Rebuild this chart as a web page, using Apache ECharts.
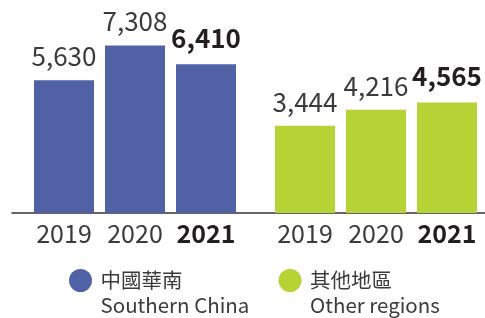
<!DOCTYPE html>
<html>
<head>
<meta charset="utf-8">
<script src="https://cdn.jsdelivr.net/npm/echarts@6/dist/echarts.min.js"></script>
<style>
  html, body { margin: 0; padding: 0; background: #fff; }
  #chart { width: 485px; height: 318px; }
</style>
</head>
<body>
<div id="chart"></div>
<script>
// data
const years = ['2019', '2020', '2021'];
const southernChina = [5630, 7308, 6410];
const otherRegions = [3444, 4216, 4565];
const seriesNames = ['中國華南\nSouthern China', '其他地區\nOther regions'];

const colors = ['#5161a5', '#b5d334'];
const FONT = '"Noto Sans CJK TC", "Noto Sans", sans-serif';

const chart = echarts.init(document.getElementById('chart'));

// bars are drawn from the bottom of the grid (axis is not zero based)
function renderBar(params, api) {
  const cs = params.coordSys;
  const pt = api.coord([api.value(0), api.value(1)]);
  const band = api.size([1, 0])[0];
  const w = band * 0.845;
  const bottom = cs.y + cs.height;
  const last = params.dataIndex === years.length - 1;
  return {
    type: 'group',
    children: [
      {
        type: 'rect',
        shape: { x: pt[0] - w / 2, y: pt[1], width: w, height: bottom - pt[1] },
        style: { fill: api.visual('color') }
      },
      {
        type: 'text',
        x: pt[0],
        y: pt[1] - (last ? 13 : 11),
        style: {
          text: echarts.format.addCommas(api.value(1)),
          fill: last ? '#231f20' : '#3b3b3b',
          font: (last ? 'bold ' : '') + '26px ' + FONT,
          align: 'center',
          verticalAlign: 'bottom'
        }
      }
    ]
  };
}

function xAxisFor(gridIndex) {
  return {
    type: 'category',
    gridIndex: gridIndex,
    data: years,
    axisLine: { show: false },
    axisTick: { show: false },
    axisLabel: {
      interval: 0,
      hideOverlap: false,
      margin: 8,
      fontFamily: FONT,
      fontSize: 25,
      color: '#3b3b3b',
      formatter: function (v, i) {
        return i === years.length - 1 ? '{b|' + v + '}' : v;
      },
      rich: {
        b: { fontFamily: FONT, fontSize: 25, fontWeight: 'bold', color: '#231f20' }
      }
    }
  };
}

function yAxisFor(gridIndex) {
  return {
    type: 'value',
    gridIndex: gridIndex,
    min: -760,
    max: 9500,
    show: false
  };
}

function legendFor(i, left) {
  return {
    data: [seriesNames[i]],
    left: left,
    top: 243,
    padding: 0,
    icon: 'circle',
    itemWidth: 30,
    itemHeight: 23,
    selectedMode: false,
    // blank first line keeps the dot level with the first text line
    formatter: function (name) {
      return ' \n' + name;
    },
    textStyle: {
      fontFamily: FONT,
      fontSize: 20.5,
      lineHeight: 25,
      color: '#3b3b3b'
    }
  };
}

const option = {
  animation: false,
  legend: [legendFor(0, 69), legendFor(1, 278.5)],
  grid: [
    { left: 28.5, top: 0, width: 213, height: 213 },
    { left: 269.5, top: 0, width: 213, height: 213 },
    { left: 12, top: 0, right: 0, height: 213 }
  ],
  xAxis: [
    xAxisFor(0),
    xAxisFor(1),
    {
      type: 'category',
      gridIndex: 2,
      data: [''],
      axisLine: { show: true, lineStyle: { color: '#333', width: 1.5 } },
      axisTick: { show: false },
      axisLabel: { show: false }
    }
  ],
  yAxis: [
    yAxisFor(0),
    yAxisFor(1),
    { type: 'value', gridIndex: 2, min: 0, max: 1, show: false }
  ],
  series: [
    {
      name: seriesNames[0],
      type: 'custom',
      xAxisIndex: 0,
      yAxisIndex: 0,
      itemStyle: { color: colors[0] },
      renderItem: renderBar,
      data: years.map((y, i) => [y, southernChina[i]])
    },
    {
      name: seriesNames[1],
      type: 'custom',
      xAxisIndex: 1,
      yAxisIndex: 1,
      itemStyle: { color: colors[1] },
      renderItem: renderBar,
      data: years.map((y, i) => [y, otherRegions[i]])
    }
  ]
};

chart.setOption(option);
</script>
</body>
</html>
